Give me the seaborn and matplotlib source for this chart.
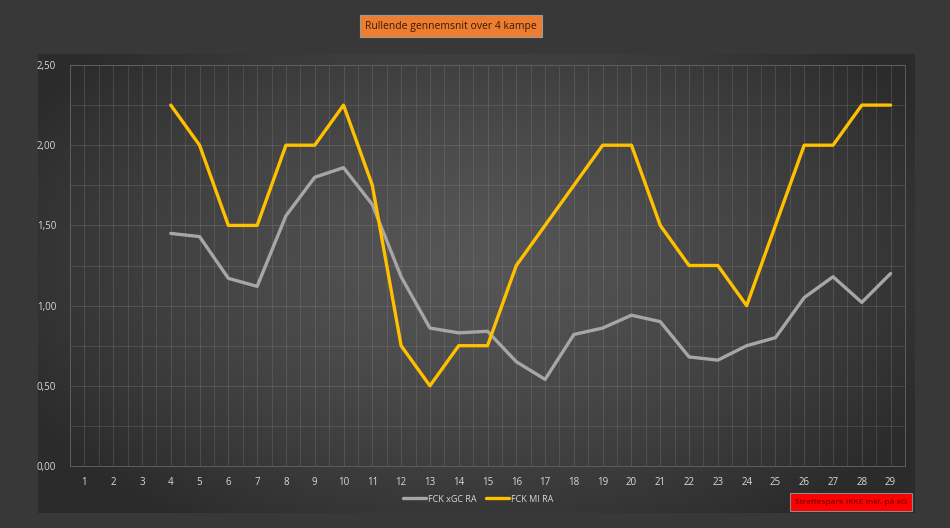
import numpy as np
import pandas as pd
import matplotlib
matplotlib.use("Agg")
import matplotlib.pyplot as plt
import seaborn as sns

# kamp-numre og rullende gennemsnit (4 kampe)
rounds = list(range(1, 30))
xgc_ra = [None, None, None, 1.45, 1.43, 1.17, 1.12, 1.56, 1.80, 1.86, 1.63, 1.18,
          0.86, 0.83, 0.84, 0.65, 0.54, 0.82, 0.86, 0.94, 0.90, 0.68, 0.66,
          0.75, 0.80, 1.05, 1.18, 1.02, 1.20]
mi_ra = [None, None, None, 2.25, 2.00, 1.50, 1.50, 2.00, 2.00, 2.25, 1.75, 0.75,
         0.50, 0.75, 0.75, 1.25, 1.50, 1.75, 2.00, 2.00, 1.50, 1.25, 1.25,
         1.00, 1.50, 2.00, 2.00, 2.25, 2.25]
series_names = ["FCK xGC RA", "FCK MI RA"]
y_ticks = [0.0, 0.5, 1.0, 1.5, 2.0, 2.5]

df = pd.DataFrame({
    "Kamp": rounds * 2,
    "Værdi": xgc_ra + mi_ra,
    "Serie": [series_names[0]] * len(rounds) + [series_names[1]] * len(rounds),
}).dropna()

sns.set_theme(style="dark")
plt.rcParams["font.family"] = ["Open Sans", "DejaVu Sans"]

W, H = 950, 528
fig = plt.figure(figsize=(W / 100, H / 100), dpi=100, facecolor="#383838")

# chart panel with a soft radial gradient
px0, px1, py0, py1 = 38, 915, 54, 513
bg = fig.add_axes([px0 / W, 1 - py1 / H, (px1 - px0) / W, (py1 - py0) / H])
gx, gy = np.meshgrid(np.linspace(-1, 1, 400), np.linspace(-1, 1, 220))
r = np.sqrt(gx ** 2 + ((gy + 0.1) / 1.2) ** 2)
shade = np.clip(0.335 - 0.135 * r ** 1.4, 0.17, 0.34)
bg.imshow(np.dstack([shade] * 3), aspect="auto", extent=[0, 1, 0, 1])
bg.set_axis_off()

# plot area
ax0, ax1, ay0, ay1 = 70, 905, 65, 466
ax = fig.add_axes([ax0 / W, 1 - ay1 / H, (ax1 - ax0) / W, (ay1 - ay0) / H])
ax.set_facecolor("none")

sns.lineplot(data=df, x="Kamp", y="Værdi", hue="Serie",
             palette={series_names[0]: "#A6A6A6", series_names[1]: "#FFC000"},
             linewidth=2.4, ax=ax, legend=False)

ax.set_xlim(0.5, 29.5)
ax.set_ylim(0, 2.5)
ax.set_xticks(rounds)
ax.set_xticklabels([str(r) for r in rounds])
ax.set_yticks(y_ticks)
ax.set_yticklabels([f"{v:.2f}".replace(".", ",") for v in y_ticks])
ax.set_xticks(np.arange(0.5, 30, 1.0), minor=True)
ax.set_yticks(np.arange(0.25, 2.5, 0.5), minor=True)
ax.grid(True, which="major", color="#9a9a9a", alpha=0.25, linewidth=0.7)
ax.grid(True, which="minor", color="#9a9a9a", alpha=0.22, linewidth=0.7)
ax.tick_params(which="both", length=0, colors="#d9d9d9", labelsize=7)
ax.tick_params(axis="x", pad=8)
ax.tick_params(axis="y", pad=10)
for s in ax.spines.values():
    s.set_visible(True)
    s.set_color("#5e5e5e")
    s.set_linewidth(0.7)
ax.set_xlabel("")
ax.set_ylabel("")

# legend
handles = [plt.Line2D([], [], color="#A6A6A6", lw=2.4),
           plt.Line2D([], [], color="#FFC000", lw=2.4)]
fig.legend(handles, series_names, loc="center", bbox_to_anchor=(478 / W, 1 - 499 / H),
           ncol=2, frameon=False, fontsize=6.5, labelcolor="#d9d9d9",
           handlelength=2.6, handletextpad=0.2, columnspacing=1.0)

# title box
fig.text(451 / W, 1 - 26 / H, "Rullende gennemsnit over 4 kampe", ha="center", va="center",
         fontsize=7.5, color="#3a1a00",
         bbox=dict(boxstyle="square,pad=0.5", facecolor="#ED7D31", edgecolor="#9a9a9a", linewidth=0.8))

# note box
fig.text(851 / W, 1 - 502 / H, "Straffespark IKKE inkl. på xG", ha="center", va="center",
         fontsize=6.1, color="#5a0000",
         bbox=dict(boxstyle="square,pad=0.6", facecolor="#FF0000", edgecolor="#8a8a8a", linewidth=0.8))

fig.savefig("out.png", dpi=100, facecolor=fig.get_facecolor())
